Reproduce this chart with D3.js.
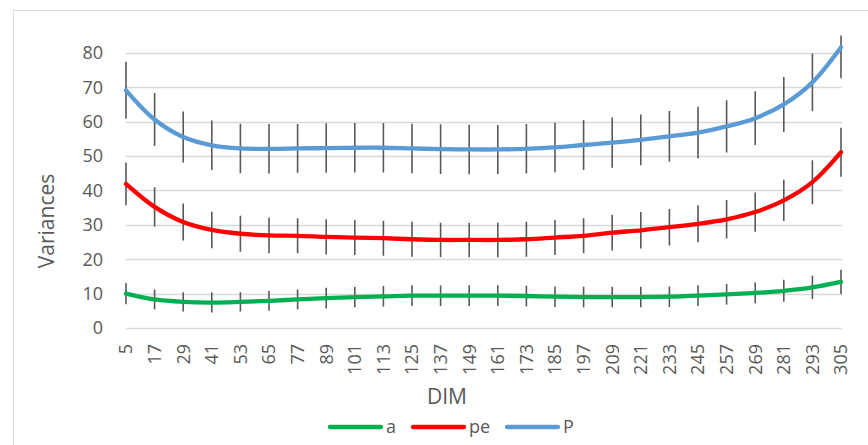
<!DOCTYPE html>
<html>
<head>
<meta charset="utf-8">
<script src="https://cdn.jsdelivr.net/npm/d3@7"></script>
<style>
  body { margin: 0; background: #fff; }
  svg { font-family: "Open Sans", sans-serif; }
</style>
</head>
<body>
<div class="chart"></div>
<script>
var width = 868, height = 445;

// categories (DIM)
var dims = [5, 17, 29, 41, 53, 65, 77, 89, 101, 113, 125, 137, 149, 161, 173, 185, 197, 209, 221, 233, 245, 257, 269, 281, 293, 305];
var yTicks = [0, 10, 20, 30, 40, 50, 60, 70, 80];

// series values and error bar half-lengths
var aVals  = [10.0, 8.3, 7.6, 7.4, 7.6, 7.9, 8.3, 8.7, 9.0, 9.2, 9.4, 9.4, 9.4, 9.4, 9.3, 9.1, 9.0, 9.0, 9.0, 9.1, 9.4, 9.8, 10.2, 10.8, 11.8, 13.4];
var aErr   = [3.1, 2.9, 2.8, 2.9, 2.8, 2.9, 2.9, 3.0, 3.0, 3.0, 3.0, 3.0, 3.0, 3.0, 3.0, 3.0, 3.0, 3.0, 3.0, 3.0, 3.0, 3.0, 3.0, 3.2, 3.4, 3.5];
var peVals = [41.9, 35.2, 30.8, 28.5, 27.4, 26.9, 26.8, 26.5, 26.3, 26.1, 25.8, 25.6, 25.6, 25.6, 25.8, 26.3, 26.8, 27.7, 28.4, 29.3, 30.3, 31.6, 33.7, 37.1, 42.4, 51.1];
var peErr  = [6.2, 5.7, 5.4, 5.3, 5.2, 5.2, 5.1, 5.1, 5.1, 5.1, 5.1, 5.0, 5.0, 5.0, 5.1, 5.1, 5.1, 5.2, 5.3, 5.3, 5.4, 5.6, 5.7, 6.0, 6.4, 7.1];
var pVals  = [69.1, 60.6, 55.5, 53.1, 52.2, 52.1, 52.2, 52.3, 52.4, 52.4, 52.2, 52.0, 51.9, 51.9, 52.1, 52.5, 53.2, 53.9, 54.7, 55.7, 56.8, 58.6, 61.0, 65.0, 71.4, 81.6];
var pErr   = [8.3, 7.7, 7.4, 7.2, 7.2, 7.2, 7.1, 7.2, 7.2, 7.2, 7.2, 7.2, 7.2, 7.1, 7.2, 7.2, 7.3, 7.3, 7.4, 7.4, 7.5, 7.6, 7.8, 8.0, 8.4, 9.0];

var series = [
  {name: "a",  vals: aVals,  err: aErr,  color: "#00B050"},
  {name: "pe", vals: peVals, err: peErr, color: "#FF0000"},
  {name: "P",  vals: pVals,  err: pErr,  color: "#5B9BD5"}
];

var svg = d3.select(".chart").append("svg")
  .attr("width", width)
  .attr("height", height);

// chart border
svg.append("rect")
  .attr("x", 13.5).attr("y", 10.5)
  .attr("width", 900).attr("height", 500)
  .attr("fill", "#fff")
  .attr("stroke", "#D9D9D9");

var x = d3.scalePoint().domain(dims).range([126, 841]);
var y = d3.scaleLinear().domain([0, 85]).range([328, 35.6]);

svg.append("clipPath").attr("id", "plotclip")
  .append("rect")
  .attr("x", 100).attr("y", y(85))
  .attr("width", 760).attr("height", y(0) - y(85) + 20);

// gridlines
svg.append("g").selectAll("line")
  .data(yTicks)
  .enter().append("line")
  .attr("x1", 126).attr("x2", 842)
  .attr("y1", function(d) { return Math.round(y(d)) + 0.5; })
  .attr("y2", function(d) { return Math.round(y(d)) + 0.5; })
  .attr("stroke", "#D9D9D9")
  .attr("stroke-width", 1.3);

// y tick labels
svg.append("g").selectAll("text")
  .data(yTicks)
  .enter().append("text")
  .attr("x", 103)
  .attr("y", function(d) { return y(d); })
  .attr("dy", "0.36em")
  .attr("text-anchor", "end")
  .attr("font-size", 18)
  .attr("fill", "#595959")
  .text(function(d) { return d; });

// x tick labels (rotated)
svg.append("g").selectAll("text")
  .data(dims)
  .enter().append("text")
  .attr("transform", function(d) { return "translate(" + x(d) + ",344) rotate(-90)"; })
  .attr("dy", "0.36em")
  .attr("text-anchor", "end")
  .attr("font-size", 18)
  .attr("fill", "#595959")
  .text(function(d) { return d; });

// axis titles
svg.append("text")
  .attr("x", 447).attr("y", 404)
  .attr("text-anchor", "middle")
  .attr("font-size", 21)
  .attr("fill", "#595959")
  .text("DIM");

svg.append("text")
  .attr("transform", "translate(54,221) rotate(-90)")
  .attr("text-anchor", "middle")
  .attr("font-size", 21)
  .attr("fill", "#595959")
  .text("Variances");

// error bars
var errG = svg.append("g").attr("clip-path", "url(#plotclip)");
series.forEach(function(s) {
  errG.append("g").selectAll("line")
    .data(dims)
    .enter().append("line")
    .attr("x1", function(d) { return x(d); })
    .attr("x2", function(d) { return x(d); })
    .attr("y1", function(d, i) { return y(s.vals[i] + s.err[i]); })
    .attr("y2", function(d, i) { return y(s.vals[i] - s.err[i]); })
    .attr("stroke", "#595959")
    .attr("stroke-width", 1.6);
});

// lines
var line = d3.line()
  .x(function(d) { return x(d[0]); })
  .y(function(d) { return y(d[1]); })
  .curve(d3.curveCatmullRom.alpha(0.5));

series.forEach(function(s) {
  svg.append("path")
    .datum(dims.map(function(d, i) { return [d, s.vals[i]]; }))
    .attr("d", line)
    .attr("fill", "none")
    .attr("stroke", s.color)
    .attr("stroke-width", 4.3)
    .attr("stroke-linecap", "round")
    .attr("stroke-linejoin", "round");
});

// legend
var legendX = [330, 413, 507];
var legend = svg.append("g").selectAll("g")
  .data(series)
  .enter().append("g")
  .attr("transform", function(d, i) { return "translate(" + legendX[i] + ",427)"; });

legend.append("line")
  .attr("x1", 0).attr("x2", 51)
  .attr("stroke", function(d) { return d.color; })
  .attr("stroke-width", 4.3)
  .attr("stroke-linecap", "round");

legend.append("text")
  .attr("x", 56)
  .attr("dy", "0.36em")
  .attr("font-size", 18)
  .attr("fill", "#595959")
  .text(function(d) { return d.name; });
</script>
</body>
</html>
